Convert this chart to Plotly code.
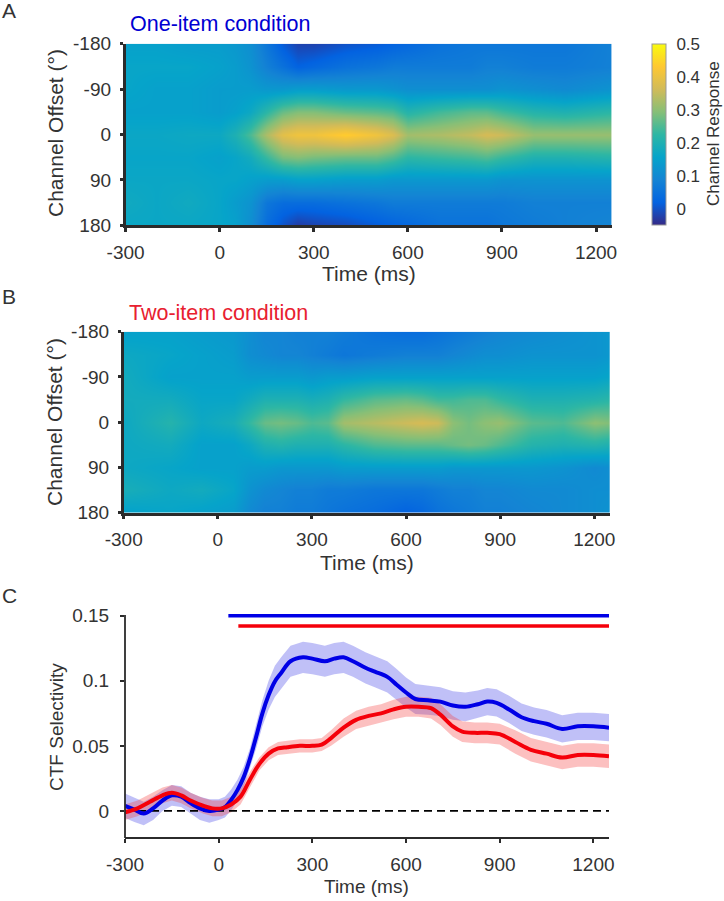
import plotly.graph_objects as go

W, H = 724, 901

# ---------- data ----------
channel_offsets = [-180, -135, -90, -45, 0, 45, 90, 135, 180]

time_a = [-300, -200, -100, 0, 50, 100, 150, 200, 250, 300, 400, 500, 550, 600, 700, 800, 850, 900, 1000, 1100, 1250]
resp_a_m180 = [.15, .15, .14, .14, .13, .11, .06, .01, -.02, -.02, 0, .01, .02, .03, .05, .06, .06, .06, .06, .06, .08]
resp_a_m135 = [.16, .16, .16, .15, .14, .12, .08, .05, .02, .03, .05, .06, .07, .07, .07, .07, .08, .08, .07, .07, .08]
resp_a_m90 = [.16, .15, .15, .14, .14, .14, .13, .13, .14, .14, .13, .13, .12, .11, .11, .11, .11, .12, .11, .10, .12]
resp_a_m45 = [.15, .15, .15, .14, .15, .17, .22, .27, .29, .29, .27, .26, .25, .21, .24, .26, .26, .24, .21, .20, .22]
resp_a_0 = [.165, .165, .17, .17, .20, .25, .33, .39, .41, .41, .44, .41, .38, .32, .33, .35, .37, .36, .31, .31, .31]
resp_a_p45 = [.16, .16, .16, .15, .16, .18, .23, .28, .29, .28, .27, .27, .25, .22, .23, .24, .25, .23, .20, .20, .21]
resp_a_p90 = [.165, .165, .165, .16, .16, .15, .14, .14, .15, .15, .14, .14, .13, .13, .13, .13, .13, .12, .12, .12, .12]
resp_a_p135 = [.175, .165, .175, .16, .14, .12, .06, .04, .04, .04, .05, .06, .07, .07, .07, .07, .07, .07, .08, .08, .08]
resp_a_p180 = [.165, .165, .165, .16, .15, .11, .04, 0, -.03, -.02, -.01, .01, .02, .03, .05, .05, .05, .06, .07, .08, .09]

time_b = [-300, -150, -50, 50, 100, 150, 200, 250, 300, 350, 400, 500, 600, 650, 700, 750, 800, 850, 900, 1000, 1100, 1200, 1250]
resp_b_m180 = [.15, .15, .14, .13, .11, .09, .09, .08, .08, .08, .07, .05, .04, .04, .05, .06, .07, .08, .09, .10, .11, .12, .13]
resp_b_m135 = [.17, .16, .15, .14, .11, .10, .09, .09, .08, .07, .06, .07, .08, .08, .08, .09, .10, .11, .11, .12, .12, .12, .13]
resp_b_m90 = [.18, .15, .15, .15, .14, .14, .14, .14, .13, .14, .14, .15, .15, .15, .15, .15, .15, .15, .15, .15, .15, .15, .16]
resp_b_m45 = [.18, .18, .16, .16, .18, .20, .20, .20, .19, .20, .23, .26, .27, .26, .24, .24, .25, .25, .23, .20, .20, .21, .22]
resp_b_0 = [.17, .21, .17, .19, .23, .27, .28, .27, .25, .26, .32, .34, .36, .37, .36, .30, .28, .30, .31, .26, .25, .30, .29]
resp_b_p45 = [.17, .18, .15, .15, .17, .20, .21, .20, .20, .20, .22, .25, .26, .26, .26, .27, .28, .27, .25, .21, .20, .21, .20]
resp_b_p90 = [.17, .16, .15, .15, .14, .14, .13, .13, .13, .13, .14, .14, .14, .14, .14, .13, .13, .13, .13, .13, .12, .10, .11]
resp_b_p135 = [.19, .17, .18, .16, .12, .10, .09, .08, .08, .07, .07, .06, .06, .06, .07, .08, .08, .09, .09, .10, .10, .11, .11]
resp_b_p180 = [.15, .16, .15, .14, .10, .08, .08, .07, .07, .06, .05, .04, .02, .03, .05, .06, .07, .08, .08, .09, .10, .11, .12]

time_one = [-300, -270, -240, -210, -180, -150, -120, -90, -60, -30, 0, 20, 40, 60, 80, 100, 120, 140, 160, 180, 200, 230, 270, 300, 340, 370, 400, 430, 470, 500, 540, 570, 600, 630, 670, 710, 750, 790, 830, 860, 890, 930, 970, 1010, 1050, 1100, 1150, 1200, 1250]
ctf_one = [.004, .001, -.002, .002, .008, .012, .011, .006, .002, 0, .001, .003, .0085, .016, .026, .04, .057, .075, .089, .0995, .106, .115, .118, .117, .115, .117, .118, .115, .11, .107, .103, .097, .091, .086, .085, .084, .081, .08, .082, .084, .083, .078, .072, .069, .067, .063, .065, .065, .064]
sem_one = [.0095, .0095, .009, .009, .008, .008, .008, .008, .009, .009, .008, .008, .008, .008, .008, .008, .009, .010, .011, .012, .012, .012, .012, .012, .012, .012, .012, .012, .012, .012, .012, .012, .0115, .0115, .011, .011, .011, .011, .0105, .0105, .0105, .0105, .0105, .0105, .0105, .0105, .0105, .0105, .0105]

time_two = [-300, -260, -220, -180, -150, -120, -90, -50, -20, 10, 40, 70, 100, 130, 160, 190, 220, 260, 300, 330, 360, 400, 440, 480, 520, 560, 600, 640, 680, 710, 750, 780, 820, 860, 900, 950, 1000, 1050, 1100, 1150, 1200, 1250]
ctf_two = [-.001, .002, .007, .012, .014, .012, .008, .004, .002, .002, .005, .011, .024, .036, .044, .048, .049, .05, .05, .051, .056, .064, .07, .073, .075, .078, .08, .08, .079, .074, .065, .061, .06, .06, .059, .053, .047, .044, .041, .043, .043, .042]
sem_two = [.006, .006, .006, .006, .006, .006, .006, .006, .006, .006, .006, .006, .006, .005, .005, .005, .005, .005, .005, .005, .006, .007, .007, .007, .007, .0075, .0077, .0077, .008, .008, .008, .008, .008, .008, .008, .009, .009, .009, .009, .009, .009, .009]

sig_one_t = [31, 1250]
sig_one_y = [.15, .15]
sig_two_t = [63, 1250]
sig_two_y = [.142, .142]
zero_t = [-300, 1250]
zero_y = [0, 0]

time_ticks = [-300, 0, 300, 600, 900, 1200]
time_tick_text = ["-300", "0", "300", "600", "900", "1200"]
offset_ticks = [-180, -90, 0, 90, 180]
offset_tick_text = ["-180", "-90", "0", "90", "180"]
ctf_ticks = [0, .05, .1, .15]
ctf_tick_text = ["0", "0.05", "0.1", "0.15"]
cbar_ticks = [0, .1, .2, .3, .4, .5]
cbar_tick_text = ["0", "0.1", "0.2", "0.3", "0.4", "0.5"]

parula = [
    [0.0, "rgb(53,42,135)"], [0.125, "rgb(3,99,225)"], [0.25, "rgb(20,132,212)"],
    [0.375, "rgb(6,164,202)"], [0.5, "rgb(46,183,164)"], [0.625, "rgb(135,191,119)"],
    [0.75, "rgb(209,187,89)"], [0.875, "rgb(254,200,50)"], [1.0, "rgb(249,251,14)"],
]

INK = "#2b2b2b"
TXT = "#333333"
FONT = "Liberation Sans, Arial, sans-serif"


def fx(p):
    return p / W


def fy(p):
    return 1 - p / H


fig = go.Figure()

fig.add_trace(go.Heatmap(
    x=time_a, y=channel_offsets,
    z=[resp_a_m180, resp_a_m135, resp_a_m90, resp_a_m45, resp_a_0, resp_a_p45, resp_a_p90, resp_a_p135, resp_a_p180],
    zmin=-0.05, zmax=0.5, zsmooth="best", colorscale=parula, xaxis="x", yaxis="y",
    colorbar=dict(
        x=fx(651.5), xanchor="left", y=fy(225), yanchor="bottom", len=181 / H, lenmode="fraction",
        thickness=14, thicknessmode="pixels", outlinewidth=1, outlinecolor="#999999",
        tickmode="array", tickvals=cbar_ticks, ticktext=cbar_tick_text, ticks="outside", ticklen=7,
        tickcolor="rgba(0,0,0,0)", tickfont=dict(family=FONT, size=17, color=TXT), xpad=0, ypad=0,
    ),
))
fig.add_trace(go.Heatmap(
    x=time_b, y=channel_offsets,
    z=[resp_b_m180, resp_b_m135, resp_b_m90, resp_b_m45, resp_b_0, resp_b_p45, resp_b_p90, resp_b_p135, resp_b_p180],
    zmin=-0.05, zmax=0.5, zsmooth="best", colorscale=parula, xaxis="x2", yaxis="y2", showscale=False,
))


def band(t, m, s, color):
    up = [a + b for a, b in zip(m, s)]
    lo = [a - b for a, b in zip(m, s)]
    fig.add_trace(go.Scatter(x=t + t[::-1], y=up + lo[::-1], mode="lines", fill="toself",
                             fillcolor=color, line=dict(width=0), xaxis="x3", yaxis="y3",
                             hoverinfo="skip", showlegend=False))


band(time_one, ctf_one, sem_one, "rgba(60,60,230,0.32)")
band(time_two, ctf_two, sem_two, "rgba(245,60,60,0.32)")
fig.add_trace(go.Scatter(x=zero_t, y=zero_y, mode="lines", xaxis="x3", yaxis="y3", showlegend=False,
                         line=dict(color="black", width=1.8, dash="8px,5px")))
fig.add_trace(go.Scatter(x=time_one, y=ctf_one, mode="lines", xaxis="x3", yaxis="y3", showlegend=False,
                         line=dict(color="#0000e6", width=4, shape="spline")))
fig.add_trace(go.Scatter(x=time_two, y=ctf_two, mode="lines", xaxis="x3", yaxis="y3", showlegend=False,
                         line=dict(color="#f5000a", width=4, shape="spline")))
fig.add_trace(go.Scatter(x=sig_one_t, y=sig_one_y, mode="lines", xaxis="x3", yaxis="y3", showlegend=False,
                         line=dict(color="#0000e6", width=3.5)))
fig.add_trace(go.Scatter(x=sig_two_t, y=sig_two_y, mode="lines", xaxis="x3", yaxis="y3", showlegend=False,
                         line=dict(color="#f5000a", width=3.5)))


def xax(l, r, anchor, lw, tw, standoff):
    return dict(
        domain=[fx(l), fx(r)], range=[-300, 1250], anchor=anchor, tickmode="array", tickvals=time_ticks,
        ticktext=time_tick_text, ticks="outside", ticklen=4, tickwidth=tw, tickcolor=INK, showline=True,
        linecolor=INK, linewidth=lw, showgrid=False, zeroline=False, automargin=False,
        ticklabelstandoff=standoff, tickfont=dict(family=FONT, size=19, color=TXT),
    )


def yax_heat(t, b, anchor):
    return dict(
        domain=[fy(b), fy(t)], range=[180, -180], anchor=anchor, tickmode="array", tickvals=offset_ticks,
        ticktext=offset_tick_text, ticks="outside", ticklen=3, tickwidth=3, tickcolor=INK, showline=True,
        linecolor=INK, linewidth=2.5, showgrid=False, zeroline=False, automargin=False,
        ticklabelstandoff=5, tickfont=dict(family=FONT, size=19, color=TXT),
    )


def note(text, x, y, size, color, xanchor="left", angle=0):
    return dict(text=text, x=fx(x), y=fy(y), xref="paper", yref="paper", showarrow=False, textangle=angle,
                xanchor=xanchor, yanchor="middle", font=dict(family=FONT, size=size, color=color))


fig.update_layout(
    width=W, height=H, autosize=False, margin=dict(l=0, r=0, t=0, b=0),
    paper_bgcolor="white", plot_bgcolor="white", showlegend=False,
    xaxis=xax(125.6, 611.7, "y", 2.5, 3, 4),
    yaxis=yax_heat(43.7, 225.3, "x"),
    xaxis2=xax(123.7, 610, "y2", 2.5, 3, 4),
    yaxis2=yax_heat(331.7, 512.7, "x2"),
    xaxis3=xax(125, 609, "y3", 1.8, 1.8, 5),
    yaxis3=dict(
        # range runs just past 0.15 so the significance bar at 0.15 is not cut in half;
        # the visible axis line is the shape below, which stops at the 0.15 tick
        domain=[fy(837), fy(611)], range=[-0.02, 0.1536], anchor="x3", tickmode="array",
        tickvals=ctf_ticks, ticktext=ctf_tick_text, ticks="outside", ticklen=4, tickwidth=1.8, tickcolor=INK,
        showline=False, showgrid=False, zeroline=False, automargin=False, ticklabelstandoff=7,
        tickfont=dict(family=FONT, size=19, color=TXT),
    ),
    shapes=[dict(type="line", xref="paper", yref="paper", x0=fx(125), x1=fx(125), y0=fy(837.9), y1=fy(615),
                 line=dict(color=INK, width=1.8))],
    annotations=[
        note("One-item condition", 128, 24, 21.5, "#0000d2"),
        note("Two-item condition", 127, 313, 21.5, "#e8202f"),
        note("A", 0, 10, 21, TXT),
        note("B", 0, 296, 21, TXT),
        note("C", 0, 595, 21, TXT),
        note("Time (ms)", 369, 274, 21, TXT, "center"),
        note("Time (ms)", 367, 562, 21, TXT, "center"),
        note("Time (ms)", 367, 886, 19, TXT, "center"),
        note("Channel Offset (°)", 55, 133, 21, TXT, "center", -90),
        note("Channel Offset (°)", 54, 422, 21, TXT, "center", -90),
        note("CTF Selectivity", 56, 727, 19, TXT, "center", -90),
        note("Channel Response", 714, 134, 17, TXT, "center", -90),
    ],
)

fig.write_html("out.html", config=dict(displayModeBar=False),
               post_script="document.body.style.margin='0';document.body.style.overflow='hidden';")
